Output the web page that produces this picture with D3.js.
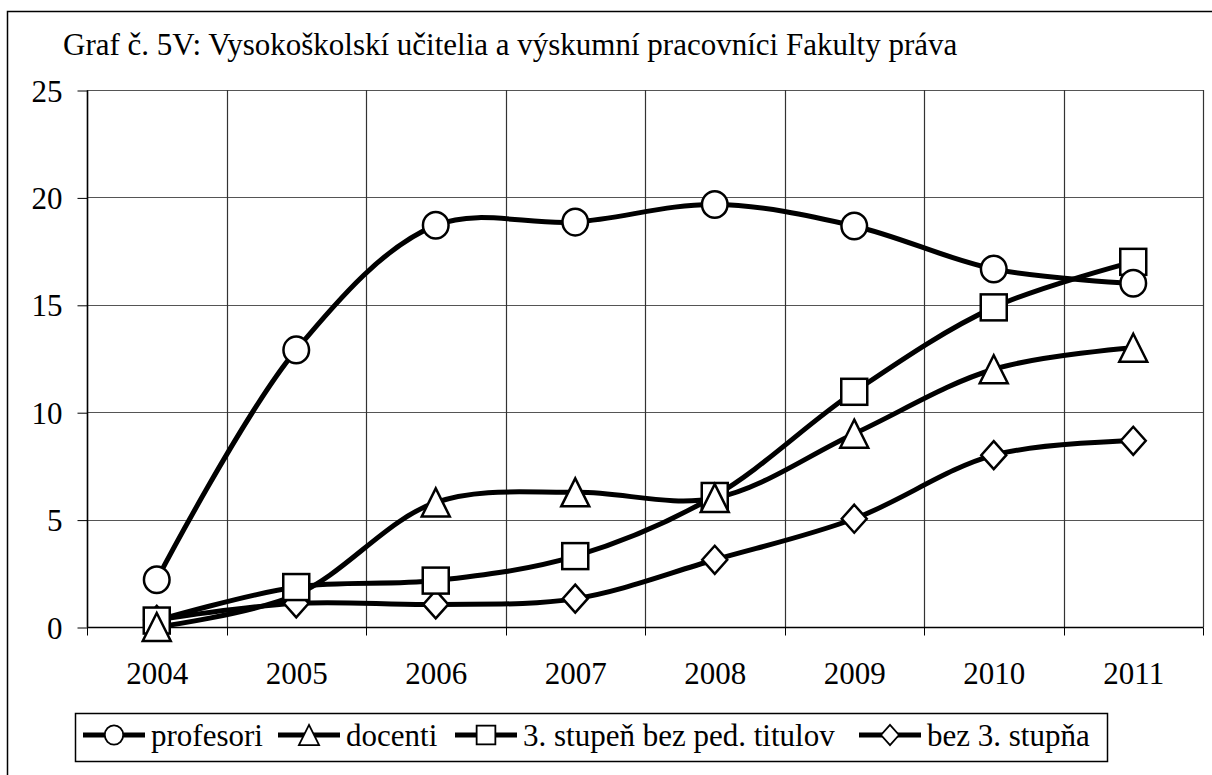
<!DOCTYPE html>
<html><head><meta charset="utf-8">
<script src="https://cdn.jsdelivr.net/npm/d3@7/dist/d3.min.js"></script>
<style>body{margin:0;background:#fff}svg{display:block}text{font-family:"Liberation Serif","Times New Roman",serif;fill:#000}</style>
</head><body><svg id="c" width="1212" height="775"></svg>
<script>
const title = "Graf č. 5V: Vysokoškolskí učitelia a výskumní pracovníci Fakulty práva";
const years = ["2004","2005","2006","2007","2008","2009","2010","2011"];
const yTicks = [0,5,10,15,20,25];
const profesori = [2.2,12.9,18.7,18.85,19.67,18.67,16.67,16.0];
const docenti = [0,1.5,5.8,6.27,6.0,9.0,12.0,13.0];
const stupen3 = [0.3,1.86,2.16,3.3,6.1,10.95,14.88,17.0];
const bez3 = [0.33,1.1,1.05,1.32,3.13,5.04,8.0,8.67];
const seriesNames = ["profesori","docenti","3. stupeň bez ped. titulov","bez 3. stupňa"];
const seriesMarkers = ["circle","triangle","square","diamond"];
const seriesData = [profesori,docenti,stupen3,bez3];

const FONT = "Liberation Serif";
const svg = d3.select("#c");
const L=87,R=1203,T=90,B=627;
svg.append("rect").attr("x",7.5).attr("y",11.5).attr("width",1220).attr("height",780).attr("fill","none").attr("stroke","#000").attr("stroke-width",1.5);
svg.append("text").attr("x",63).attr("y",55).attr("font-size",31).attr("font-family",FONT).text(title);

const x = d3.scaleBand().domain(years).range([L,R]);
const y = d3.scaleLinear().domain([0,25]).range([B,T]);
const g = svg.append("g");
g.selectAll(".hg").data(yTicks).join("line").attr("x1",L).attr("x2",R).attr("y1",d=>Math.round(y(d))+0.5).attr("y2",d=>Math.round(y(d))+0.5).attr("stroke","#555").attr("stroke-width",1.2);
const vb = years.map(d=>x(d)).concat([R]);
g.selectAll(".vg").data(vb).join("line").attr("x1",d=>Math.round(d)+0.5).attr("x2",d=>Math.round(d)+0.5).attr("y1",T).attr("y2",B).attr("stroke","#333").attr("stroke-width",1.2);

const ya = svg.append("g").attr("transform",`translate(${L+0.5},0.5)`)
  .call(d3.axisLeft(y).tickValues(yTicks).tickSize(10).tickPadding(15).tickFormat(d3.format("d")));
ya.attr("font-family",FONT).attr("font-size",31);
ya.select(".domain").attr("stroke","#000").attr("stroke-width",1.5).attr("d",`M0,${T}V${B}`);
ya.selectAll("text").attr("dy","0.34em");
ya.selectAll("line").attr("stroke","#000");
const xa = svg.append("g").attr("transform",`translate(0.5,${B+0.5})`)
  .call(d3.axisBottom(x).tickSize(0).tickPadding(0));
xa.attr("font-family",FONT).attr("font-size",31);
xa.select(".domain").attr("stroke","#000").attr("stroke-width",1.5).attr("d",`M${L},0H${R}`);
xa.selectAll("text").attr("dy",null).attr("y",56);
xa.selectAll(".vt").data(vb).join("line").attr("class","vt").attr("x1",d=>Math.round(d)).attr("x2",d=>Math.round(d)).attr("y1",0).attr("y2",8).attr("stroke","#000");

function marker(sel,type){
  if(type==="circle") sel.append("ellipse").attr("rx",12.8).attr("ry",13.3);
  else if(type==="square") sel.append("rect").attr("x",-13).attr("y",-13).attr("width",26).attr("height",26);
  else if(type==="triangle") sel.append("path").attr("d","M0,-14L14,14L-14,14Z");
  else sel.append("path").attr("d","M0,-14L12.5,0L0,14L-12.5,0Z");
  sel.selectAll("*").attr("fill","#fff").attr("stroke","#000").attr("stroke-width",2.5);
}
const cx = i => x(years[i])+x.bandwidth()/2;
const line = d3.line().x((d,i)=>cx(i)).y(d=>y(d)).curve(d3.curveCatmullRom.alpha(0.5));
for(let s=seriesData.length-1;s>=0;s--){
  svg.append("path").attr("d",line(seriesData[s])).attr("fill","none").attr("stroke","#000").attr("stroke-width",5).attr("stroke-linejoin","round");
}
for(let s=seriesData.length-1;s>=0;s--){
  seriesData[s].forEach((v,i)=>{
    if(s===1 && i===1) return;
    const m=svg.append("g").attr("transform",`translate(${cx(i)},${y(v)})`);
    marker(m,seriesMarkers[s]);
  });
}
// legend
svg.append("rect").attr("x",75.5).attr("y",713.5).attr("width",1032).attr("height",48).attr("fill","#fff").attr("stroke","#000").attr("stroke-width",1.5);
const lx=[83,278,455,859];
seriesNames.forEach((n,s)=>{
  const gg=svg.append("g");
  gg.append("line").attr("x1",lx[s]).attr("x2",lx[s]+62).attr("y1",735).attr("y2",735).attr("stroke","#000").attr("stroke-width",5);
  const m=gg.append("g").attr("transform",`translate(${lx[s]+31},735) scale(0.72)`);
  marker(m,seriesMarkers[s]);
  gg.append("text").attr("x",lx[s]+68).attr("y",746).attr("font-size",31).attr("font-family",FONT).text(n);
});
</script></body></html>
